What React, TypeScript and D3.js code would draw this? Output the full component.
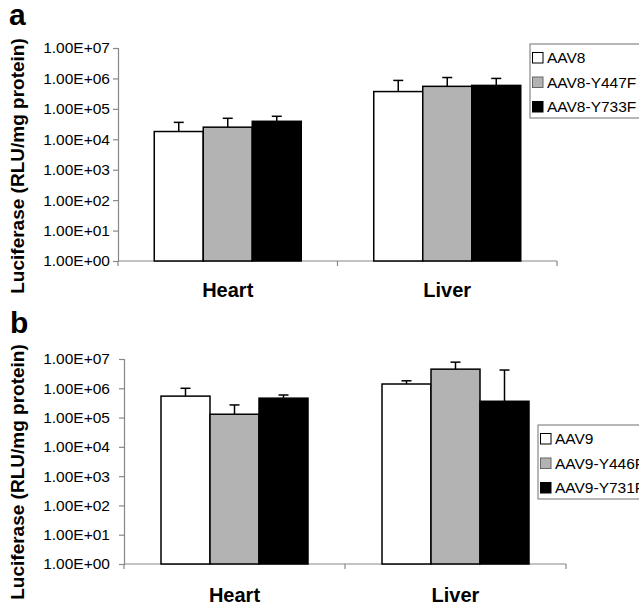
import React, { useEffect, useRef } from 'react';
import * as d3 from 'd3';

const categories = ['Heart', 'Liver'];
const tickValues = [1, 1e1, 1e2, 1e3, 1e4, 1e5, 1e6, 1e7];

const seriesA = ['AAV8', 'AAV8-Y447F', 'AAV8-Y733F'];
const valuesA = [
  [1.8e4, 2.5e4, 3.9e4],
  [3.7e5, 5.5e5, 5.9e5],
];
const errTopA = [
  [3.6e4, 4.9e4, 5.7e4],
  [8.6e5, 1.07e6, 1.0e6],
];

const seriesB = ['AAV9', 'AAV9-Y446F', 'AAV9-Y731F'];
const valuesB = [
  [5.4e5, 1.3e5, 4.6e5],
  [1.4e6, 4.5e6, 3.6e5],
];
const errTopB = [
  [1.0e6, 2.7e5, 5.9e5],
  [1.8e6, 7.8e6, 4.2e6],
];

const fills = ['#ffffff', '#b3b3b3', '#000000'];
const font = '"Liberation Sans", Arial, sans-serif';

const fmt = (v: number) => {
  const e = Math.round(Math.log10(v));
  return `1.00E+${e < 10 ? '0' + e : e}`;
};

function drawPanel(svg: any, opt: any) {
  const { letter, letterX, letterY, series, values, errTop, x0, x1, yTop, yBottom, tickPad, tickFont,
    catY, titleY, legendX, legendY } = opt;
  const g = svg.append('g');

  const y = d3.scaleLog().domain([1, 1e7]).range([yBottom, yTop]);
  const x = d3.scaleBand().domain(categories).range([x0, x1]).paddingInner(0).paddingOuter(0);
  const inner = d3.scaleBand().domain(series).range([0, 147]);
  const groupOff = (x.bandwidth() - 147) / 2;

  // y axis
  const yAxis = d3.axisLeft(y).tickValues(tickValues).tickFormat((d: any) => fmt(d)).tickSize(5).tickPadding(tickPad);
  const ya = g.append('g').attr('transform', `translate(${x0},0)`).call(yAxis);
  ya.selectAll('path,line').attr('stroke', '#888').attr('stroke-width', 1.2);
  ya.selectAll('text').attr('font-family', font).attr('font-size', tickFont).attr('fill', '#000');

  // x axis
  const xa = g.append('g').attr('transform', `translate(0,${yBottom})`);
  xa.append('line').attr('x1', x0).attr('x2', x1).attr('stroke', '#888').attr('stroke-width', 1.2);
  [x0, x0 + x.bandwidth(), x1].forEach((t) => {
    xa.append('line').attr('x1', t).attr('x2', t).attr('y1', 0).attr('y2', 5).attr('stroke', '#888').attr('stroke-width', 1.2);
  });
  categories.forEach((c) => {
    xa.append('text')
      .attr('x', (x(c) as number) + x.bandwidth() / 2)
      .attr('y', catY)
      .attr('text-anchor', 'middle')
      .attr('font-family', font)
      .attr('font-weight', 'bold')
      .attr('font-size', 20)
      .text(c);
  });

  // bars + error bars
  categories.forEach((c, ci) => {
    series.forEach((s: string, si: number) => {
      const bx = (x(c) as number) + groupOff + (inner(s) as number);
      const bw = inner.bandwidth();
      const cx = bx + bw / 2;
      g.append('line')
        .attr('x1', cx).attr('x2', cx)
        .attr('y1', y(values[ci][si])).attr('y2', y(errTop[ci][si]))
        .attr('stroke', '#000').attr('stroke-width', 1.5);
      g.append('line')
        .attr('x1', cx - 5).attr('x2', cx + 5)
        .attr('y1', y(errTop[ci][si])).attr('y2', y(errTop[ci][si]))
        .attr('stroke', '#000').attr('stroke-width', 1.5);
      g.append('rect')
        .attr('x', bx).attr('y', y(values[ci][si]))
        .attr('width', bw).attr('height', yBottom - y(values[ci][si]))
        .attr('fill', fills[si]).attr('stroke', '#000').attr('stroke-width', 1.5);
    });
  });

  // y title
  g.append('text')
    .attr('transform', `translate(24,${titleY}) rotate(-90)`)
    .attr('text-anchor', 'middle')
    .attr('font-family', font)
    .attr('font-weight', 'bold')
    .attr('font-size', 19)
    .text('Luciferase (RLU/mg protein)');

  // panel letter
  g.append('text')
    .attr('x', letterX).attr('y', letterY)
    .attr('font-family', font).attr('font-weight', 'bold').attr('font-size', 30)
    .text(letter);

  // legend
  const lg = g.append('g').attr('transform', `translate(${legendX},${legendY})`);
  lg.append('rect').attr('width', 130).attr('height', 74).attr('fill', '#fff').attr('stroke', '#888').attr('stroke-width', 1.2);
  series.forEach((s: string, i: number) => {
    const base = 19 + i * 24.5;
    lg.append('rect').attr('x', 2.5).attr('y', base - 10.5).attr('width', 10.5).attr('height', 10.5)
      .attr('fill', fills[i]).attr('stroke', i === 1 ? '#666' : '#000').attr('stroke-width', 1);
    lg.append('text').attr('x', 17).attr('y', base)
      .attr('font-family', font).attr('font-size', 15.5).text(s);
  });
}

export default function App() {
  const ref = useRef<SVGSVGElement>(null);
  useEffect(() => {
    const svg = d3.select(ref.current);
    svg.selectAll('*').remove();
    svg.append('rect').attr('width', 639).attr('height', 608).attr('fill', '#fff');
    drawPanel(svg, {
      letter: 'a', letterX: 9, letterY: 25, series: seriesA, values: valuesA, errTop: errTopA,
      x0: 118, x1: 557, yTop: 48, yBottom: 261, tickPad: 3, tickFont: 15.5,
      catY: 36, titleY: 166, legendX: 530, legendY: 44,
    });
    drawPanel(svg, {
      letter: 'b', letterX: 10, letterY: 333, series: seriesB, values: valuesB, errTop: errTopB,
      x0: 124, x1: 566, yTop: 359, yBottom: 564, tickPad: 9, tickFont: 15.5,
      catY: 38, titleY: 472, legendX: 538, legendY: 425,
    });
  }, []);
  return (
    <svg ref={ref} width={639} height={608} style={{ position: 'absolute', left: 0, top: 0 }} />
  );
}
